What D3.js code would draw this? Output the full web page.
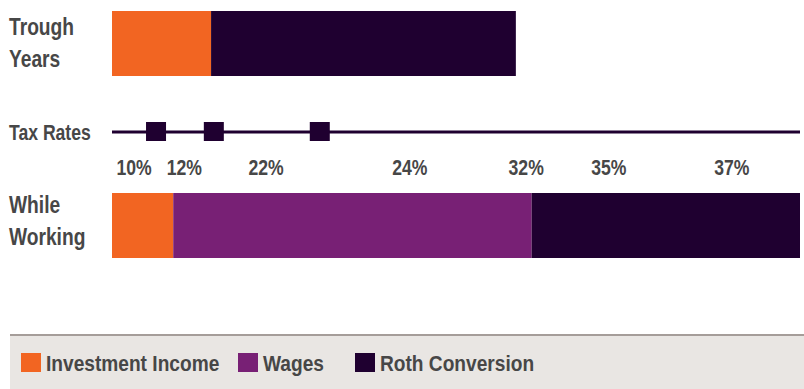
<!DOCTYPE html>
<html>
<head>
<meta charset="utf-8">
<script src="https://cdn.jsdelivr.net/npm/d3@7"></script>
<style>
  body { margin: 0; background: #fff; }
  text { font-family: "Liberation Sans", Arial, sans-serif; font-weight: bold; fill: #474747; }
</style>
</head>
<body>
<script>
// segments on a 0-100 income scale
var series = ["Investment Income", "Wages", "Roth Conversion"];
var colors = ["#f26522", "#782075", "#1f0030"];
var troughYears = [14.4, 0, 44.3];
var whileWorking = [8.9, 52.1, 39.0];
var bracketMarkers = [6.4, 14.8, 30.2];
var bracketLabels = ["10%", "12%", "22%", "24%", "32%", "35%", "37%"];
var bracketLabelPos = [3.2, 10.5, 22.4, 43.3, 60.2, 72.2, 90.1];

var width = 804, height = 389;
var squeeze = 0.82; // no condensed font installed, squash horizontally

var svg = d3.select("body").append("svg")
    .attr("width", width)
    .attr("height", height);

var x = d3.scaleLinear().domain([0, 100]).range([112, 800]);
var color = d3.scaleOrdinal().domain(series).range(colors);
var barH = 65;

function label(parent, tx, ty, size, sx) {
    return parent.append("text")
        .attr("transform", "translate(" + tx + "," + ty + ") scale(" + (sx || squeeze) + ",1)")
        .style("font-size", size + "px");
}

function drawBar(values, y0) {
    var stacked = [], acc = 0;
    values.forEach(function(v, i) {
        stacked.push({ key: series[i], x0: acc, x1: acc + v });
        acc += v;
    });
    svg.append("g").selectAll("rect")
        .data(stacked.filter(function(d) { return d.x1 > d.x0; }))
        .enter().append("rect")
        .attr("x", function(d) { return x(d.x0); })
        .attr("width", function(d) { return x(d.x1) - x(d.x0); })
        .attr("y", y0)
        .attr("height", barH)
        .attr("fill", function(d) { return color(d.key); });
}

drawBar(troughYears, 11);
drawBar(whileWorking, 193);

// row labels
function rowLabel(lines, y) {
    var t = label(svg, 9, y, 24, 0.8);
    lines.forEach(function(l, i) {
        t.append("tspan").attr("x", 0).attr("dy", i ? 32 : 0).text(l);
    });
}
rowLabel(["Trough", "Years"], 35);
rowLabel(["While", "Working"], 213);
label(svg, 9, 140, 22, 0.8).text("Tax Rates");

// tax rate line
var lineY = 132;
svg.append("line")
    .attr("x1", x(0)).attr("x2", x(100))
    .attr("y1", lineY).attr("y2", lineY)
    .attr("stroke", "#1f0030").attr("stroke-width", 3);

svg.append("g").selectAll("rect")
    .data(bracketMarkers)
    .enter().append("rect")
    .attr("x", function(d) { return x(d) - 10; })
    .attr("y", lineY - 10)
    .attr("width", 20).attr("height", 19)
    .attr("fill", "#1f0030");

var tg = svg.append("g");
bracketLabels.forEach(function(d, i) {
    label(tg, x(bracketLabelPos[i]), 175, 22, 0.8)
        .attr("text-anchor", "middle")
        .text(d);
});

// legend
svg.append("rect").attr("x", 10).attr("y", 336).attr("width", 794).attr("height", 53).attr("fill", "#e9e6e3");
svg.append("line").attr("x1", 10).attr("x2", 804).attr("y1", 335).attr("y2", 335)
    .attr("stroke", "#a59d99").attr("stroke-width", 2);

var legendX = [21, 238, 355];
var lg = svg.append("g").selectAll("g")
    .data(series)
    .enter().append("g")
    .attr("transform", function(d, i) { return "translate(" + legendX[i] + ",353)"; });
lg.append("rect").attr("width", 20).attr("height", 19).attr("fill", function(d) { return color(d); });
lg.each(function(d) {
    label(d3.select(this), 25, 18, 22, 0.87).text(d);
});
</script>
</body>
</html>
